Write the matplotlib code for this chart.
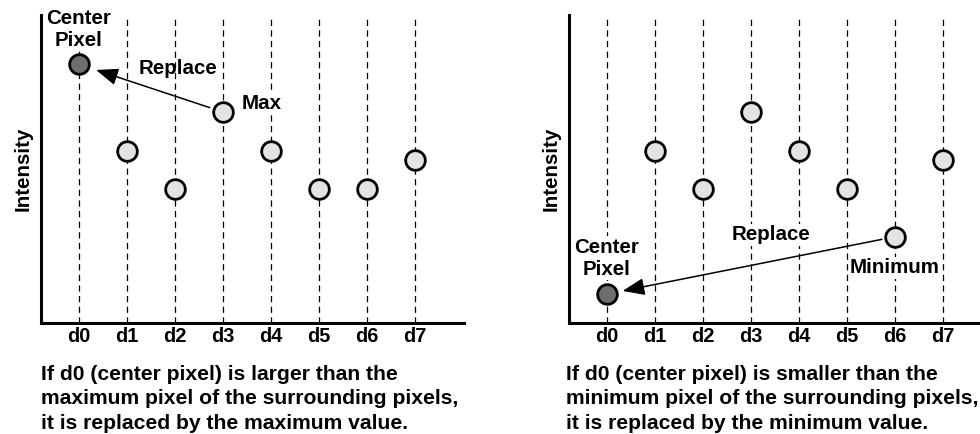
import numpy as np
import matplotlib.pyplot as plt

labels = ['d0', 'd1', 'd2', 'd3', 'd4', 'd5', 'd6', 'd7']
max_case = [84, 56, 43.5, 68.5, 56, 43.5, 43.5, 53]
min_case = [9.4, 56, 43.5, 68.5, 56, 43.5, 28, 53]
captions = ['If d0 (center pixel) is larger than the\nmaximum pixel of the surrounding pixels,\nit is replaced by the maximum value.',
            'If d0 (center pixel) is smaller than the\nminimum pixel of the surrounding pixels,\nit is replaced by the minimum value.']

plt.rcParams['font.family'] = ['Liberation Sans', 'DejaVu Sans']

fig = plt.figure(figsize=(9.8, 4.34), dpi=100)
ax1 = fig.add_axes([41/980, 111/434, 423/980, 308/434])
ax2 = fig.add_axes([569/980, 111/434, 420/980, 308/434])

x = np.arange(len(labels))

def panel(ax, vals):
    for xi in x:
        ax.plot([xi, xi], [0, 100], color='black', lw=0.9, ls=(0, (5, 3.5)), zorder=1)
    ax.scatter(x[1:], vals[1:], s=200, facecolor='#e3e3e3', edgecolor='black', lw=2, zorder=3)
    ax.scatter(x[:1], vals[:1], s=200, facecolor='#6e6e6e', edgecolor='black', lw=2, zorder=3)
    ax.set_xlim(-0.79, 8.02)
    ax.set_ylim(0, 100)
    ax.set_xticks(x)
    ax.set_xticklabels(labels, fontsize=14.3, fontweight='bold')
    ax.tick_params(axis='x', length=0, pad=3)
    ax.set_yticks([])
    ax.spines['top'].set_visible(False)
    ax.spines['right'].set_visible(False)
    ax.spines['left'].set_linewidth(2.2)
    ax.spines['bottom'].set_linewidth(2.2)
    ax.set_ylabel('Intensity', fontsize=14.8, fontweight='bold', labelpad=6)
    ax.patch.set_alpha(0)

panel(ax1, max_case)
panel(ax2, min_case)
ax2.set_xlim(-0.79, 7.96)

box = dict(facecolor='white', edgecolor='none', pad=1)
tkw = dict(fontsize=14.8, fontweight='bold', ha='center', va='center', zorder=2, clip_on=False)
arrow = dict(arrowstyle='-|>,head_length=0.9,head_width=0.35', color='black', lw=1.1,
             mutation_scale=15)

# left panel annotations
ax1.text(0, 95.4, 'Center\nPixel', linespacing=1.2, bbox=box, **tkw)
ax1.text(2.06, 82.5, 'Replace', **tkw)
ax1.text(3.81, 71.4, 'Max', bbox=box, **tkw)
ax1.annotate('', xy=(0, max_case[0]), xytext=(3, max_case[3]),
             arrowprops=dict(shrinkA=10, shrinkB=13, **arrow), zorder=4)

# right panel annotations
ax2.text(0, 21.1, 'Center\nPixel', linespacing=1.2, bbox=box, **tkw)
ax2.text(3.42, 28.6, 'Replace', bbox=box, **tkw)
ax2.text(6.0, 17.9, 'Minimum', bbox=box, **tkw)
ax2.annotate('', xy=(0, min_case[0]), xytext=(6, min_case[6]),
             arrowprops=dict(shrinkA=9.5, shrinkB=11.5, **arrow), zorder=4)

fig.text(41/980, 1 - 365/434, captions[0], fontsize=15.2, fontweight='bold',
         va='top', ha='left', linespacing=1.36)
fig.text(566/980, 1 - 365/434, captions[1], fontsize=15.2, fontweight='bold',
         va='top', ha='left', linespacing=1.36)

fig.savefig('out.png', dpi=100)
